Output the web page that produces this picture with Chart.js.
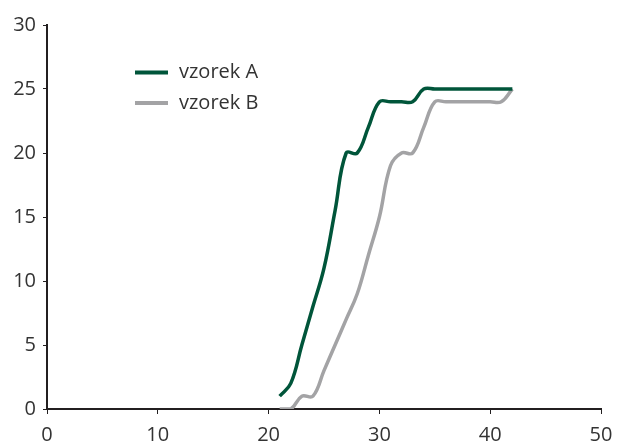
<!DOCTYPE html>
<html>
<head>
<meta charset="utf-8">
<script src="https://cdn.jsdelivr.net/npm/chart.js@4/dist/chart.umd.min.js"></script>
<style>
  html, body { margin: 0; padding: 0; background: #fff; }
  #wrap { width: 618px; height: 442px; }
</style>
</head>
<body>
<div id="wrap"><canvas id="graf"></canvas></div>
<script>
// data
const xA = [21, 22, 23, 24, 25, 26, 27, 28, 29, 30, 31, 32, 33, 34, 35, 36, 37, 38, 39, 40, 41, 42];
const yA = [1, 2, 5, 8, 11, 15.5, 20, 20, 22, 24, 24, 24, 24, 25, 25, 25, 25, 25, 25, 25, 25, 25];
const xB = [21, 22, 23, 24, 25, 26, 27, 28, 29, 30, 31, 32, 33, 34, 35, 36, 37, 38, 39, 40, 41, 42];
const yB = [0, 0, 1, 1, 3, 5, 7, 9, 12, 15, 19, 20, 20, 22, 24, 24, 24, 24, 24, 24, 24, 25];
const xTicks = [0, 10, 20, 30, 40, 50];
const yTicks = [0, 5, 10, 15, 20, 25, 30];

const fontFam = "'Open Sans', 'DejaVu Sans', sans-serif";
const axisCol = '#231f20';
const textCol = '#333333';

// legend drawn inside the plot, like the original
const innerLegend = {
  id: 'innerLegend',
  afterDraw(chart) {
    const ctx = chart.ctx;
    const a = chart.chartArea;
    ctx.save();
    chart.data.datasets.forEach((ds, i) => {
      const y = a.top + 47.5 + i * 30.5;
      const x0 = a.left + 88;
      ctx.strokeStyle = ds.borderColor;
      ctx.lineWidth = 4;
      ctx.beginPath();
      ctx.moveTo(x0, y);
      ctx.lineTo(x0 + 33, y);
      ctx.stroke();
      ctx.fillStyle = textCol;
      ctx.font = '20px ' + fontFam;
      ctx.textBaseline = 'middle';
      ctx.fillText(ds.label, x0 + 44, y);
    });
    ctx.restore();
  }
};

const ctx = document.getElementById('graf').getContext('2d');
const myChart = new Chart(ctx, {
  type: 'line',
  data: {
    datasets: [
      {
        label: 'vzorek A',
        data: xA.map((x, i) => ({ x: x, y: yA[i] })),
        borderColor: '#00553a',
        borderWidth: 3.5,
        pointRadius: 0,
        tension: 0.4,
        fill: false
      },
      {
        label: 'vzorek B',
        data: xB.map((x, i) => ({ x: x, y: yB[i] })),
        borderColor: '#a3a3a5',
        borderWidth: 3.5,
        pointRadius: 0,
        tension: 0.4,
        fill: false
      }
    ]
  },
  options: {
    responsive: true,
    maintainAspectRatio: false,
    animation: false,
    layout: { padding: { left: 0, right: 17, top: 25, bottom: 0 } },
    scales: {
      x: {
        type: 'linear',
        min: 0,
        max: 50,
        afterBuildTicks: s => { s.ticks = xTicks.map(v => ({ value: v })); },
        afterFit: s => { s.height = 33; s.paddingLeft = 0; s.paddingRight = 0; },
        grid: { drawOnChartArea: false, tickLength: 5, color: axisCol, tickWidth: 1 },
        border: { color: axisCol, width: 2 },
        ticks: { color: textCol, font: { family: fontFam, size: 20 }, padding: 9, maxRotation: 0 }
      },
      y: {
        min: 0,
        max: 30,
        afterBuildTicks: s => { s.ticks = yTicks.map(v => ({ value: v })); },
        afterFit: s => { s.width = 47; },
        grid: { drawOnChartArea: false, tickLength: 4, color: axisCol, tickWidth: 1 },
        border: { color: axisCol, width: 2 },
        ticks: { color: textCol, font: { family: fontFam, size: 20 }, padding: 7 }
      }
    },
    plugins: {
      legend: { display: false },
      tooltip: { enabled: false }
    }
  },
  plugins: [innerLegend]
});
</script>
</body>
</html>
